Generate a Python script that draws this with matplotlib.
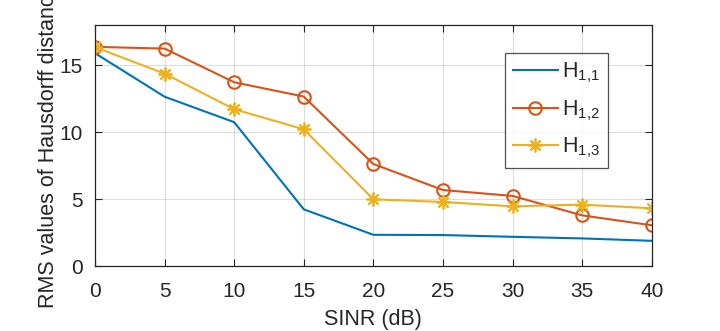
import matplotlib
matplotlib.use("Agg")
import matplotlib.pyplot as plt

sinr = [0, 5, 10, 15, 20, 25, 30, 35, 40]
h11 = [15.9, 12.65, 10.75, 4.25, 2.35, 2.33, 2.2, 2.08, 1.9]
h12 = [16.37, 16.24, 13.73, 12.66, 7.63, 5.69, 5.25, 3.8, 3.06]
h13 = [16.35, 14.37, 11.72, 10.22, 5.0, 4.8, 4.47, 4.6, 4.33]
labels = ["$\\mathregular{H_{1{,}1}}$", "$\\mathregular{H_{1{,}2}}$", "$\\mathregular{H_{1{,}3}}$"]
xticks = [0, 5, 10, 15, 20, 25, 30, 35, 40]
yticks = [0, 5, 10, 15]

plt.rcParams['font.family'] = ['Liberation Sans', 'DejaVu Sans']
plt.rcParams['mathtext.fontset'] = 'custom'
plt.rcParams['mathtext.rm'] = 'Liberation Sans'

fig = plt.figure(figsize=(7.2, 3.31), dpi=100)
ax = fig.add_axes([95/720, 1-266.3/331, (651.7-95)/720, (266.3-25)/331])

c1 = (0, 0.447, 0.741)
c2 = (0.850, 0.325, 0.098)
c3 = (0.929, 0.694, 0.125)
tc = (0.15, 0.15, 0.15)

ax.plot(sinr, h11, color=c1, lw=1.5, label=labels[0])
ax.plot(sinr, h12, color=c2, lw=1.5, marker='o', ms=9, mfc='none', mew=1.5, label=labels[1])
ax.plot(sinr, h13, color=c3, lw=1.5, marker=(8, 2, 0), ms=10, mew=1.3, label=labels[2])

ax.set_xlim(0, 40)
ax.set_ylim(0, 18)
ax.set_xticks(xticks)
ax.set_yticks(yticks)
ax.grid(True, color=tc, alpha=0.15, lw=0.8)
ax.tick_params(direction='in', top=True, right=True, labelsize=15, colors=tc, length=5)
ax.tick_params(axis='x', pad=11)
ax.tick_params(axis='y', pad=9)
for s in ax.spines.values():
    s.set_color(tc)
    s.set_linewidth(0.9)
ax.set_xlabel("SINR (dB)", fontsize=15.5, color=tc, labelpad=6)
ax.set_ylabel("RMS values of Hausdorff distance", fontsize=15.5, color=tc, labelpad=0)

leg = ax.legend(loc='upper left', bbox_to_anchor=((505.3-95)/(651.7-95), 1-(53.3-25)/(266.3-25)),
                fontsize=15.5, frameon=True, fancybox=False, edgecolor=tc,
                handlelength=2.1, borderpad=0.35, labelspacing=0.6, handletextpad=0.2,
                borderaxespad=0)
leg.get_frame().set_linewidth(0.9)
for t in leg.get_texts():
    t.set_color(tc)

fig.savefig("out.png", dpi=100)
